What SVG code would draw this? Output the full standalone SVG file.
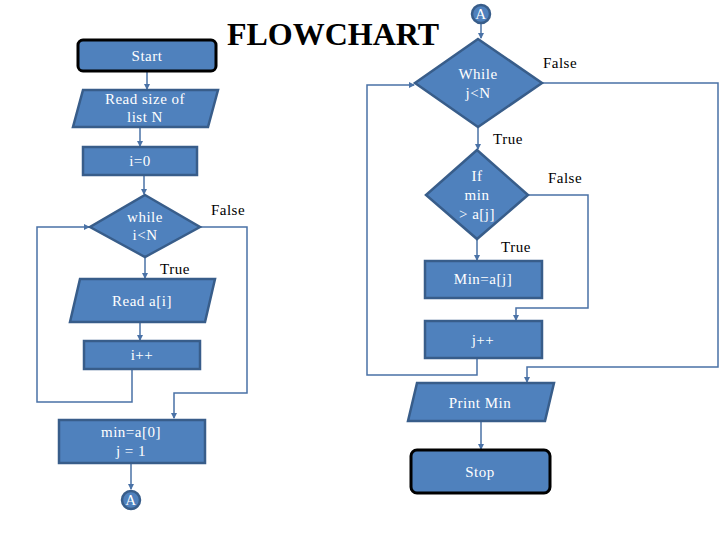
<svg xmlns="http://www.w3.org/2000/svg" width="720" height="540" viewBox="0 0 720 540">
<style>
.n{fill:#4f81bd;stroke:#385d8a;stroke-width:2.5}
.t{fill:#4f81bd;stroke:#000;stroke-width:3}
.w{fill:#fff;font-family:"Liberation Serif",serif;font-size:15px;letter-spacing:0.5px;text-anchor:middle}
.l{fill:#000;font-family:"Liberation Serif",serif;font-size:15px;letter-spacing:0.5px;text-anchor:middle}
.c{fill:none;stroke:#4a72a6;stroke-width:1.5}
</style>
<defs>
<marker id="a" markerWidth="6" markerHeight="6" refX="5" refY="3" orient="auto" markerUnits="userSpaceOnUse"><path d="M0,0 L6,3 L0,6 z" fill="#4a72a6"/></marker>
</defs>
<rect width="720" height="540" fill="#fff"/>
<text x="333" y="45" font-family="Liberation Serif,serif" font-weight="bold" font-size="32" text-anchor="middle">FLOWCHART</text>
<g id="connectors">
<path class="c" d="M147,72 V89" marker-end="url(#a)"/>
<path class="c" d="M140,127 V146" marker-end="url(#a)"/>
<path class="c" d="M144,175 V194" marker-end="url(#a)"/>
<path class="c" d="M145,257 V278" marker-end="url(#a)"/>
<path class="c" d="M140,322 V340" marker-end="url(#a)"/>
<path class="c" d="M132,369 V402 H37 V227 H89" marker-end="url(#a)"/>
<path class="c" d="M200,227 H247 V393 H174 V418" marker-end="url(#a)"/>
<path class="c" d="M131,463 V489" marker-end="url(#a)"/>
<path class="c" d="M481,24 V38" marker-end="url(#a)"/>
<path class="c" d="M478,127 V149" marker-end="url(#a)"/>
<path class="c" d="M477,239 V260" marker-end="url(#a)"/>
<path class="c" d="M528,195 H588 V308 H516 V320" marker-end="url(#a)"/>
<path class="c" d="M477,358 V375 H367 V85 H414" marker-end="url(#a)"/>
<path class="c" d="M542,83 H718 V367 H527 V382" marker-end="url(#a)"/>
<path class="c" d="M481,421 V449" marker-end="url(#a)"/>
</g>
<g id="start"><rect class="t" x="78" y="40" width="138" height="31" rx="5"/><text class="w" x="147" y="61">Start</text></g>
<g id="readN"><path class="n" d="M83,90 H218 L208,127 H73 z"/><text class="w" x="145" y="104">Read size of</text><text class="w" x="145" y="122">list N</text></g>
<g id="i0"><rect class="n" x="83" y="147" width="114" height="28"/><text class="w" x="140" y="166">i=0</text></g>
<g id="whileI"><path class="n" d="M145,195 L200,227 L145,257 L90,227 z"/><text class="w" x="145" y="222">while</text><text class="w" x="145" y="240">i&lt;N</text></g>
<g id="readA"><path class="n" d="M80,279 H215 L205,322 H70 z"/><text class="w" x="142" y="306">Read a[i]</text></g>
<g id="iinc"><rect class="n" x="84" y="341" width="116" height="28"/><text class="w" x="142" y="360">i++</text></g>
<g id="minInit"><rect class="n" x="59" y="420" width="146" height="43"/><text class="w" x="131" y="437">min=a[0]</text><text class="w" x="131" y="456">j = 1</text></g>
<g id="connA1"><circle class="n" cx="131" cy="500" r="9"/><text class="w" x="131" y="505">A</text></g>
<g id="connA2"><circle class="n" cx="481" cy="14" r="9"/><text class="w" x="481" y="19">A</text></g>
<g id="whileJ"><path class="n" d="M478,39 L542,83 L478,127 L415,83 z"/><text class="w" x="478" y="79">While</text><text class="w" x="478" y="98">j&lt;N</text></g>
<g id="ifMin"><path class="n" d="M477,150 L528,195 L477,239 L426,195 z"/><text class="w" x="477" y="181">If</text><text class="w" x="477" y="200">min</text><text class="w" x="477" y="219">&gt; a[j]</text></g>
<g id="minSet"><rect class="n" x="425" y="261" width="117" height="37"/><text class="w" x="483" y="284">Min=a[j]</text></g>
<g id="jinc"><rect class="n" x="425" y="321" width="117" height="37"/><text class="w" x="483" y="345">j++</text></g>
<g id="print"><path class="n" d="M417,383 H554 L545,421 H408 z"/><text class="w" x="480" y="408">Print Min</text></g>
<g id="stop"><rect class="t" x="411" y="450" width="139" height="43" rx="6"/><text class="w" x="480" y="477">Stop</text></g>
<g id="labels">
<text class="l" x="228" y="215">False</text>
<text class="l" x="175" y="274">True</text>
<text class="l" x="560" y="68">False</text>
<text class="l" x="508" y="144">True</text>
<text class="l" x="565" y="183">False</text>
<text class="l" x="516" y="252">True</text>
</g>
</svg>
